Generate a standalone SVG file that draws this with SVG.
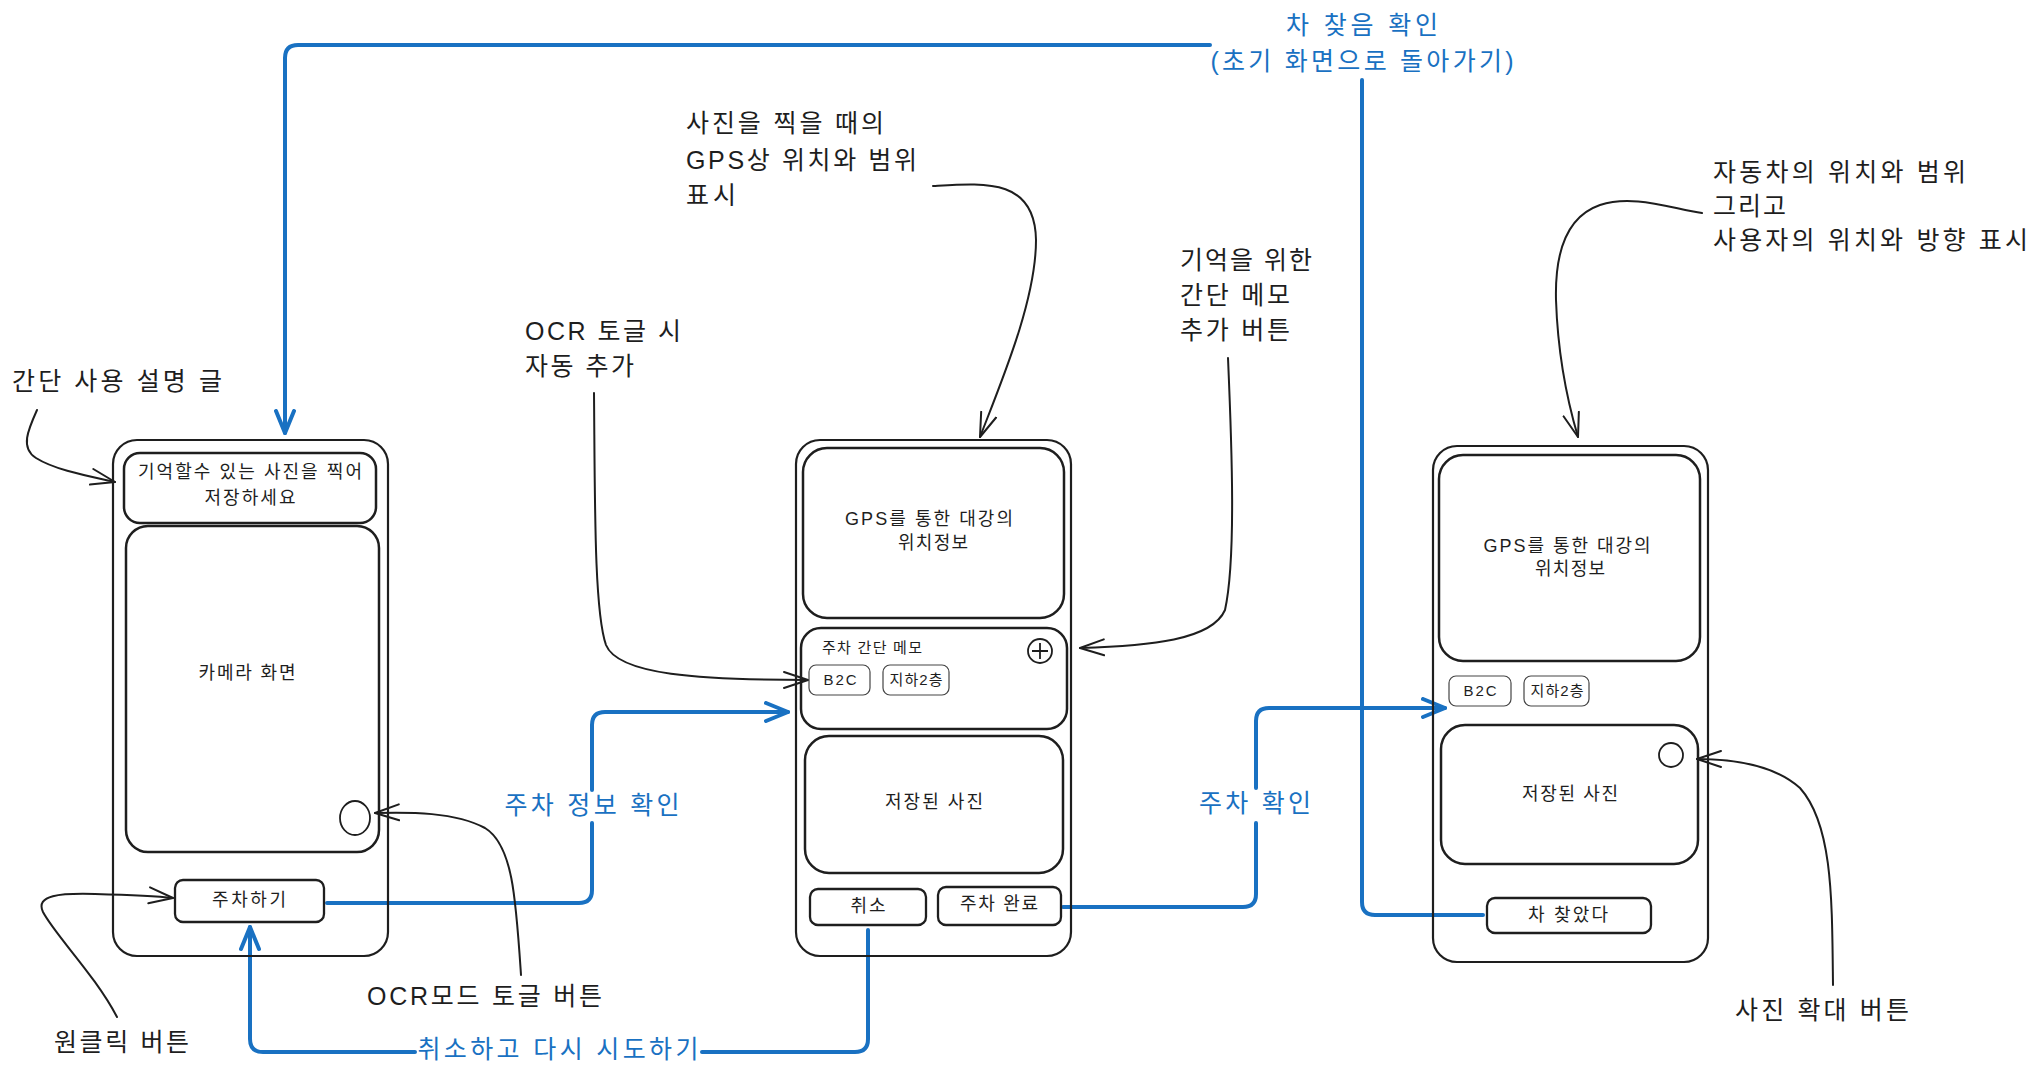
<svg xmlns="http://www.w3.org/2000/svg" width="2040" height="1078" viewBox="0 0 2040 1078">
<defs>
<style>
.bg{fill:#ffffff}
.phone{fill:none;stroke:#1e1e1e;stroke-width:2.2}
.box{fill:none;stroke:#1e1e1e;stroke-width:2.5}
.btn{fill:none;stroke:#1e1e1e;stroke-width:2.3}
.chip{fill:none;stroke:#444;stroke-width:1.2}
.dot{fill:none;stroke:#1e1e1e;stroke-width:1.8}
.t{font-family:"Liberation Sans","Noto Sans CJK KR",sans-serif;fill:#1e1e1e;dominant-baseline:central}
.ann{font-size:25px}
.in{font-size:18px}
.sm{font-size:15px}
.c{text-anchor:middle}
.blue{fill:#1971c2;font-size:25px}
.eb{fill:none;stroke:#1971c2;stroke-width:4;stroke-linecap:round;stroke-linejoin:round}
.ek{fill:none;stroke:#1e1e1e;stroke-width:2;stroke-linecap:round}
</style>
<marker id="ab" viewBox="0 0 26 22" refX="24" refY="11" markerWidth="26" markerHeight="22" markerUnits="userSpaceOnUse" orient="auto">
<path d="M2,2 L24,11 L2,20" fill="none" stroke="#1971c2" stroke-width="4" stroke-linecap="round" stroke-linejoin="round"/>
</marker>
<marker id="ak" viewBox="0 0 26 20" refX="25" refY="10" markerWidth="26" markerHeight="20" markerUnits="userSpaceOnUse" orient="auto">
<path d="M1,2 L25,10 L1,18" fill="none" stroke="#1e1e1e" stroke-width="2" stroke-linecap="round" stroke-linejoin="round"/>
</marker>
</defs>
<rect class="bg" x="0" y="0" width="2040" height="1078"/>

<g id="connectors">
<path class="eb" d="M1483 915 L1375 915 Q1362 915 1362 902 L1362 80"/>
<path class="eb" d="M1210 45 L298 45 Q285 45 285 58 L285 433" marker-end="url(#ab)"/>
<path class="eb" d="M327 903 L579 903 Q592 903 592 890 L592 823"/>
<path class="eb" d="M592 790 L592 725 Q592 712 605 712 L788 712" marker-end="url(#ab)"/>
<path class="eb" d="M1063 907 L1243 907 Q1256 907 1256 894 L1256 823"/>
<path class="eb" d="M1256 788 L1256 721 Q1256 708 1269 708 L1445 708" marker-end="url(#ab)"/>
<path class="eb" d="M868 930 L868 1039 Q868 1052 855 1052 L702 1052"/>
<path class="eb" d="M415 1052 L263 1052 Q250 1052 250 1039 L250 927" marker-end="url(#ab)"/>
<path class="ek" d="M37 410 C28 430 20 448 36 458 C55 470 88 476 115 482" marker-end="url(#ak)"/>
<path class="ek" d="M117 1017 C95 975 55 935 43 912 C35 895 60 893 95 894 C130 895 155 896 173 898" marker-end="url(#ak)"/>
<path class="ek" d="M521 975 C516 900 513 845 485 828 C455 812 410 812 375 813" marker-end="url(#ak)"/>
<path class="ek" d="M594 393 C595 500 594 610 606 645 C618 675 700 680 808 680" marker-end="url(#ak)"/>
<path class="ek" d="M933 186 C985 183 1035 178 1036 240 C1036 300 1002 380 980 437" marker-end="url(#ak)"/>
<path class="ek" d="M1228 358 C1232 450 1236 560 1225 610 C1212 640 1150 646 1080 648" marker-end="url(#ak)"/>
<path class="ek" d="M1702 213 C1670 208 1632 194 1600 205 C1562 218 1555 260 1556 300 C1558 360 1570 410 1578 437" marker-end="url(#ak)"/>
<path class="ek" d="M1833 985 C1832 900 1833 825 1800 788 C1772 763 1730 759 1697 759" marker-end="url(#ak)"/>
</g>

<g id="connector-labels">
<text class="t blue c" x="1362" y="25" textLength="152">차 찾음 확인</text>
<text class="t blue c" x="1362" y="61" textLength="303">(초기 화면으로 돌아가기)</text>
<text class="t blue c" x="592" y="805" textLength="175">주차 정보 확인</text>
<text class="t blue c" x="1255" y="803" textLength="112">주차 확인</text>
<text class="t blue c" x="558" y="1049" textLength="281">취소하고 다시 시도하기</text>
</g>

<g id="phone-camera">
<rect class="phone" x="113" y="440" width="275" height="516" rx="24"/>
<g id="guide-text">
<rect class="box" x="124" y="453" width="252" height="70" rx="16"/>
<text class="t in c" x="250" y="472" textLength="224">기억할수 있는 사진을 찍어</text>
<text class="t in c" x="250" y="498" textLength="91">저장하세요</text>
</g>
<g id="camera-view">
<rect class="box" x="126" y="526" width="253" height="326" rx="22"/>
<text class="t in c" x="247" y="673" textLength="97">카메라 화면</text>
</g>
<g id="ocr-toggle"><ellipse class="dot" cx="355" cy="818" rx="15" ry="17"/></g>
<g id="park-button">
<rect class="btn" x="175" y="880" width="149" height="42" rx="8"/>
<text class="t in c" x="249" y="900" textLength="74">주차하기</text>
</g>
</g>

<g id="phone-parking">
<rect class="phone" x="796" y="440" width="275" height="516" rx="24"/>
<g id="gps-map-1">
<rect class="box" x="803" y="448" width="261" height="170" rx="24"/>
<text class="t in c" x="929" y="519" textLength="168">GPS를 통한 대강의</text>
<text class="t in c" x="933" y="543" textLength="70">위치정보</text>
</g>
<g id="memo">
<rect class="box" x="801" y="628" width="266" height="101" rx="20"/>
<text class="t sm" x="822" y="647" textLength="100">주차 간단 메모</text>
<circle class="dot" cx="1040" cy="651" r="12"/>
<path d="M1040 643 L1040 659 M1032 651 L1048 651" stroke="#1e1e1e" stroke-width="1.8" fill="none"/>
<rect class="chip" x="809" y="665" width="61" height="30" rx="7"/>
<text class="t sm c" x="840" y="679" textLength="33">B2C</text>
<rect class="chip" x="883" y="665" width="66" height="30" rx="7"/>
<text class="t sm c" x="916" y="679" textLength="53">지하2층</text>
</g>
<g id="photo-1">
<rect class="box" x="805" y="736" width="258" height="137" rx="24"/>
<text class="t in c" x="934" y="802" textLength="98">저장된 사진</text>
</g>
<g id="cancel-button">
<rect class="btn" x="810" y="889" width="116" height="36" rx="8"/>
<text class="t in c" x="868" y="906" textLength="35">취소</text>
</g>
<g id="park-done-button">
<rect class="btn" x="938" y="887" width="123" height="38" rx="8"/>
<text class="t in c" x="999" y="904" textLength="78">주차 완료</text>
</g>
</g>

<g id="phone-find">
<rect class="phone" x="1433" y="446" width="275" height="516" rx="24"/>
<g id="gps-map-2">
<rect class="box" x="1439" y="455" width="261" height="206" rx="24"/>
<text class="t in c" x="1567" y="546" textLength="167">GPS를 통한 대강의</text>
<text class="t in c" x="1570" y="569" textLength="70">위치정보</text>
</g>
<g id="chips-2">
<rect class="chip" x="1449" y="676" width="62" height="30" rx="7"/>
<text class="t sm c" x="1480" y="690" textLength="33">B2C</text>
<rect class="chip" x="1524" y="676" width="65" height="30" rx="7"/>
<text class="t sm c" x="1557" y="690" textLength="53">지하2층</text>
</g>
<g id="photo-2">
<rect class="box" x="1441" y="725" width="257" height="139" rx="24"/>
<text class="t in c" x="1570" y="794" textLength="96">저장된 사진</text>
<circle class="dot" cx="1671" cy="755" r="12"/>
</g>
<g id="found-button">
<rect class="btn" x="1487" y="898" width="164" height="35" rx="8"/>
<text class="t in c" x="1568" y="915" textLength="80">차 찾았다</text>
</g>
</g>

<g id="note-guide"><text class="t ann" x="12" y="381" textLength="210">간단 사용 설명 글</text></g>
<g id="note-oneclick"><text class="t ann" x="54" y="1042" textLength="135">원클릭 버튼</text></g>
<g id="note-ocr-button"><text class="t ann" x="367" y="996" textLength="235">OCR모드 토글 버튼</text></g>
<g id="note-ocr-auto">
<text class="t ann" x="525" y="331" textLength="156">OCR 토글 시</text>
<text class="t ann" x="525" y="366" textLength="109">자동 추가</text>
</g>
<g id="note-gps">
<text class="t ann" x="686" y="123" textLength="198">사진을 찍을 때의</text>
<text class="t ann" x="686" y="160" textLength="231">GPS상 위치와 범위</text>
<text class="t ann" x="686" y="195" textLength="50">표시</text>
</g>
<g id="note-memo">
<text class="t ann" x="1180" y="260" textLength="132">기억을 위한</text>
<text class="t ann" x="1180" y="295" textLength="110">간단 메모</text>
<text class="t ann" x="1180" y="330" textLength="110">추가 버튼</text>
</g>
<g id="note-car">
<text class="t ann" x="1713" y="172" textLength="253">자동차의 위치와 범위</text>
<text class="t ann" x="1713" y="206" textLength="73">그리고</text>
<text class="t ann" x="1713" y="240" textLength="315">사용자의 위치와 방향 표시</text>
</g>
<g id="note-zoom"><text class="t ann" x="1735" y="1010" textLength="174">사진 확대 버튼</text></g>
</svg>
